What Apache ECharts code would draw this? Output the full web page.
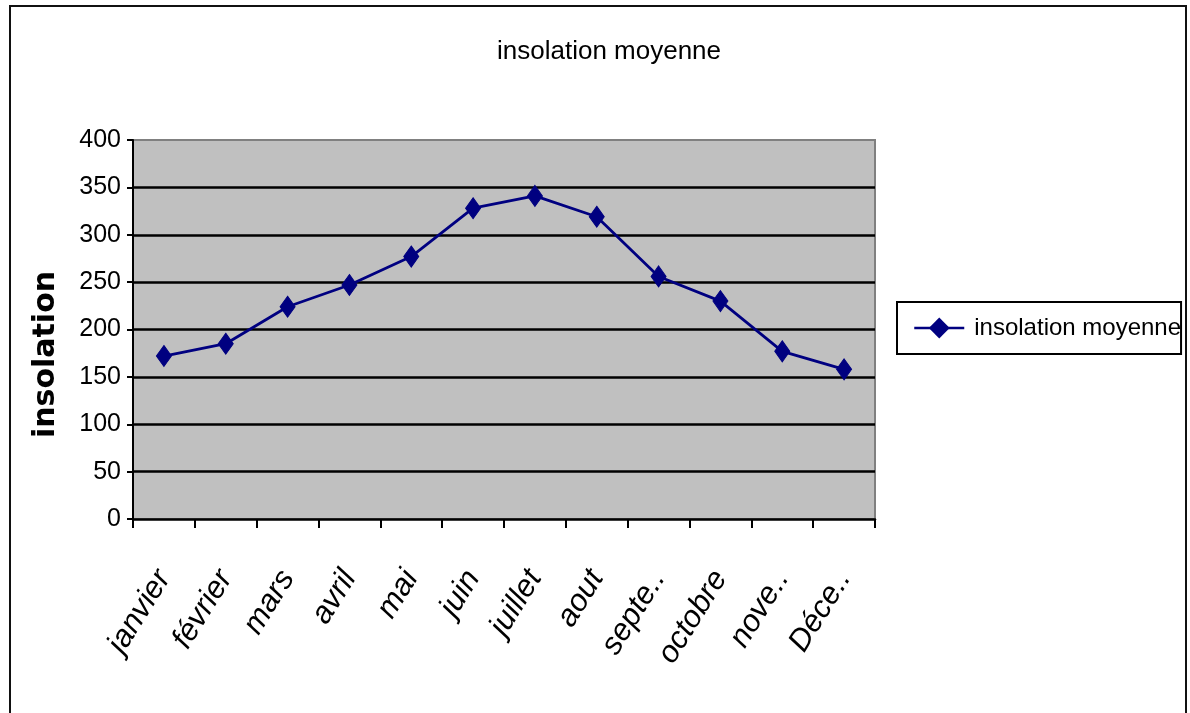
<!DOCTYPE html>
<html>
<head>
<meta charset="utf-8">
<script src="https://cdn.jsdelivr.net/npm/echarts@6/dist/echarts.min.js"></script>
<style>
  html, body { margin: 0; padding: 0; background: #ffffff; }
  #chart { width: 1190px; height: 713px; }
</style>
</head>
<body>
<div id="chart"></div>
<script>
// Monthly average sunshine (hours)
const months = ['janvier', 'février', 'mars', 'avril', 'mai', 'juin', 'juillet', 'aout', 'septe..', 'octobre', 'nove..', 'Déce..'];
const insolation = [172, 185, 224, 247, 277, 328, 341, 319, 256, 230, 177, 158];
const yMin = 0;
const yMax = 400;
const yStep = 50;
const seriesName = 'insolation moyenne';
const chartTitle = 'insolation moyenne';
const yAxisTitle = 'insolation';

const SANS = '"Liberation Sans", Arial, sans-serif';
const NAVY = '#000080';

const chart = echarts.init(document.getElementById('chart'), null, { renderer: 'canvas' });

chart.setOption({
  backgroundColor: '#ffffff',
  animation: false,
  title: {
    text: chartTitle,
    left: 497,
    top: 39,
    padding: 0,
    textStyle: { fontFamily: SANS, fontSize: 26, fontWeight: 'normal', color: '#000000' }
  },
  legend: {
    data: [seriesName],
    left: 897,
    top: 302,
    orient: 'vertical',
    padding: [14, 0, 14, 16],
    borderColor: '#000000',
    borderWidth: 2,
    itemWidth: 50,
    itemHeight: 26,
    lineStyle: { width: 2.5 },
    textStyle: { fontFamily: SANS, fontSize: 24, color: '#000000', padding: [0, 0, 0, 5] }
  },
  grid: {
    left: 133,
    right: 315,
    top: 140,
    bottom: 194,
    show: true,
    backgroundColor: '#c0c0c0',
    borderColor: '#808080',
    borderWidth: 2,
    containLabel: false,
    outerBoundsMode: 'none'
  },
  xAxis: {
    type: 'category',
    data: months,
    boundaryGap: true,
    axisLine: { show: true, lineStyle: { color: '#000000', width: 2.5 } },
    axisTick: { show: true, alignWithLabel: false, interval: 0, length: 9, lineStyle: { color: '#000000', width: 2 } },
    axisLabel: {
      interval: 0,
      rotate: 58,
      margin: 54,
      fontFamily: SANS,
      fontStyle: 'italic',
      fontSize: 31,
      color: '#000000'
    },
    splitLine: { show: false }
  },
  yAxis: {
    type: 'value',
    min: yMin,
    max: yMax,
    interval: yStep,
    name: yAxisTitle,
    nameLocation: 'middle',
    nameGap: 72,
    nameRotate: 90,
    nameTextStyle: {
      fontFamily: '"DejaVu Sans", sans-serif',
      fontWeight: 'bold',
      fontSize: 30,
      color: '#000000',
      padding: [0, 50, 0, 0]
    },
    axisLine: { show: true, lineStyle: { color: '#000000', width: 2 } },
    axisTick: { show: true, length: 6, lineStyle: { color: '#000000', width: 2 } },
    axisLabel: { margin: 12, fontFamily: SANS, fontSize: 25, color: '#000000' },
    splitLine: { show: true, showMinLine: false, showMaxLine: false, lineStyle: { color: '#000000', width: 2.5 } }
  },
  series: [{
    name: seriesName,
    type: 'line',
    data: insolation,
    symbol: 'diamond',
    symbolSize: [15, 21],
    showAllSymbol: true,
    lineStyle: { color: NAVY, width: 2.8 },
    itemStyle: { color: NAVY, borderColor: NAVY },
    emphasis: { disabled: true }
  }],
  graphic: [{
    type: 'rect',
    silent: true,
    z: 100,
    shape: { x: 10, y: 6, width: 1176, height: 760 },
    style: { fill: 'none', stroke: '#111111', lineWidth: 2 }
  }]
});
</script>
</body>
</html>
